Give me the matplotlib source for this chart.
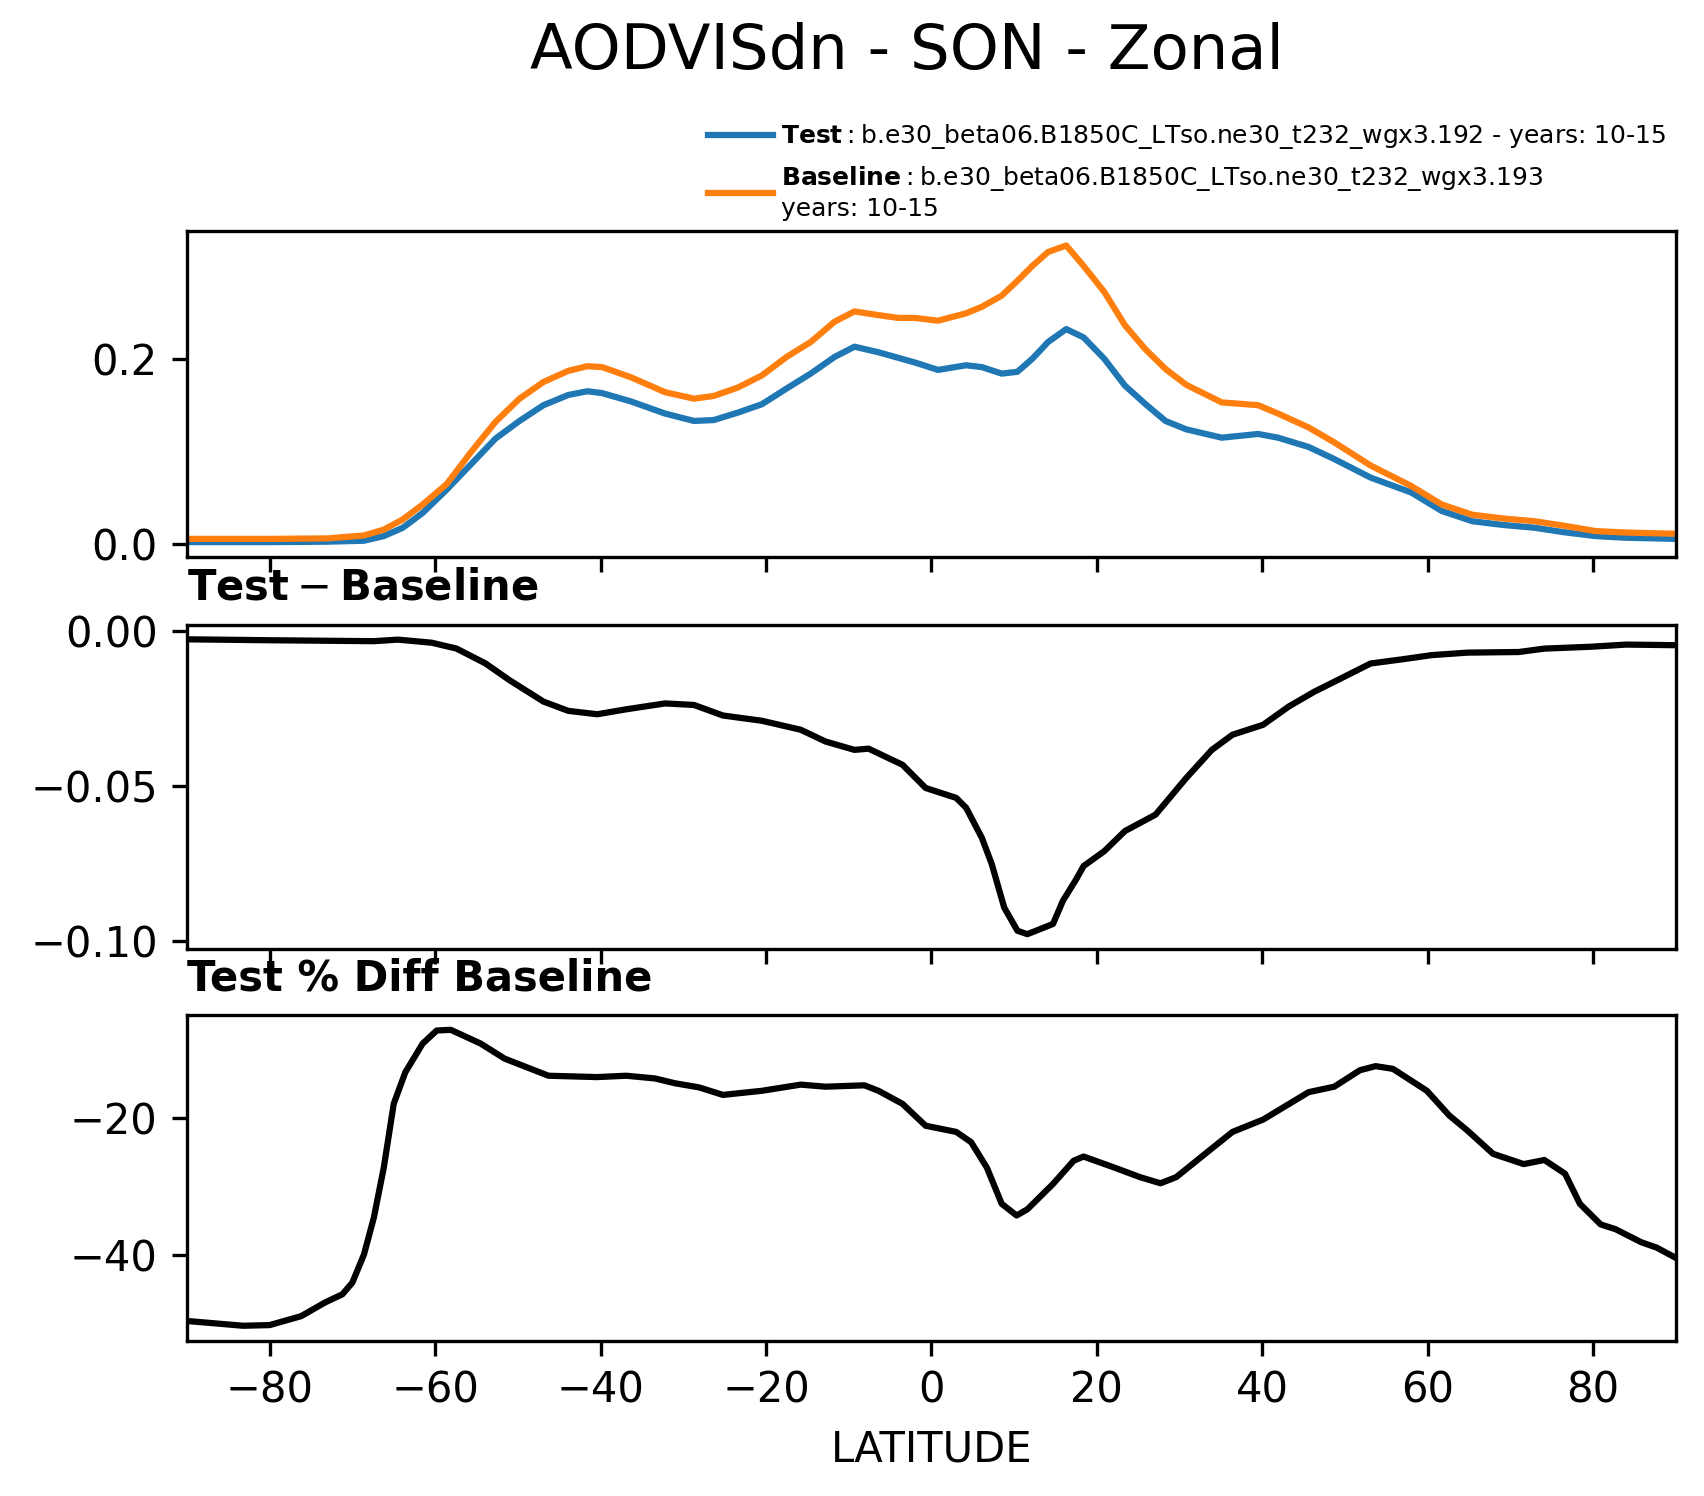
import matplotlib.pyplot as plt

# zonal means
lat_top = [-90, -80, -73, -68.6, -66.2, -63.9, -61.5, -58.6, -55.7, -52.7, -49.8, -46.9, -43.9, -41.6,
           -39.8, -36.3, -32.2, -28.7, -26.3, -23.4, -20.5, -17.5, -14.6, -11.7, -9.3, -6.4, -4.0, -2.0,
           0.8, 4.2, 6.1, 8.5, 10.4, 12.2, 14.1, 16.3, 18.4, 20.9, 23.4, 25.9, 28.3, 30.8, 35.1, 39.5,
           41.9, 45.6, 48.7, 53.1, 58.0, 61.7, 65.4, 69.1, 72.9, 76.6, 80.3, 84.0, 90.0]
test_vals = [0.0025, 0.0025, 0.003, 0.004, 0.009, 0.018, 0.034, 0.059, 0.086, 0.114, 0.133, 0.150, 0.161, 0.165,
             0.163, 0.154, 0.141, 0.133, 0.134, 0.142, 0.151, 0.168, 0.184, 0.202, 0.213, 0.207, 0.201, 0.196,
             0.188, 0.193, 0.191, 0.184, 0.186, 0.200, 0.218, 0.232, 0.223, 0.200, 0.171, 0.151, 0.133, 0.124,
             0.115, 0.119, 0.115, 0.105, 0.092, 0.072, 0.056, 0.036, 0.025, 0.021, 0.018, 0.013, 0.009, 0.0072, 0.006]
base_vals = [0.006, 0.006, 0.0065, 0.0097, 0.016, 0.027, 0.043, 0.065, 0.099, 0.132, 0.157, 0.175, 0.187, 0.192,
             0.191, 0.180, 0.164, 0.157, 0.160, 0.169, 0.182, 0.202, 0.218, 0.240, 0.251, 0.247, 0.244, 0.244,
             0.241, 0.249, 0.256, 0.268, 0.284, 0.300, 0.315, 0.322, 0.300, 0.272, 0.236, 0.210, 0.189, 0.172,
             0.153, 0.150, 0.141, 0.126, 0.110, 0.085, 0.063, 0.043, 0.032, 0.028, 0.025, 0.020, 0.0144, 0.0128, 0.0115]

lat_diff = [-90, -80, -67.4, -64.5, -60.4, -57.4, -53.9, -51.0, -46.9, -43.9, -40.4, -36.9, -32.2, -28.7,
            -25.2, -20.5, -15.8, -12.8, -9.3, -7.6, -3.5, -0.7, 3.0, 4.2, 6.1, 7.3, 8.8, 10.4, 11.6, 14.7,
            15.9, 17.5, 18.4, 20.9, 23.4, 27.1, 30.8, 33.9, 36.4, 40.1, 43.2, 46.3, 48.7, 53.1, 56.8, 60.5,
            64.8, 71.0, 74.1, 79.7, 84.0, 90.0]
diff_vals = [-0.0027, -0.003, -0.0033, -0.0028, -0.0038, -0.0057, -0.0105, -0.0159, -0.0228, -0.0258, -0.0269,
             -0.0253, -0.0234, -0.0239, -0.0273, -0.0290, -0.0319, -0.0357, -0.0384, -0.0380, -0.0432, -0.0507,
             -0.0539, -0.0571, -0.0668, -0.0753, -0.0893, -0.0968, -0.0979, -0.0946, -0.0871, -0.0802, -0.0759,
             -0.0711, -0.0646, -0.0593, -0.0475, -0.0384, -0.0335, -0.0303, -0.0244, -0.0196, -0.0164, -0.0105,
             -0.0092, -0.0078, -0.0070, -0.0068, -0.0057, -0.0051, -0.0044, -0.0046]

lat_pct = [-90, -83.2, -80, -76.2, -73.3, -71.2, -70.0, -68.6, -67.4, -66.2, -65.0, -63.6, -61.5, -59.8,
           -58.1, -54.5, -51.6, -46.3, -40.4, -36.9, -33.4, -31.0, -28.1, -25.2, -20.5, -15.8, -12.8, -8.1,
           -6.4, -3.5, -0.7, 3.0, 4.8, 6.7, 8.5, 10.3, 11.6, 14.7, 17.2, 18.4, 22.1, 25.2, 27.7, 29.6, 33.3,
           36.4, 40.1, 45.6, 48.7, 51.8, 53.7, 55.8, 59.9, 62.6, 64.8, 67.9, 71.6, 74.1, 76.6, 78.4, 80.9,
           82.7, 85.8, 87.7, 90.0]
pct_vals = [-49.6, -50.3, -50.2, -48.9, -46.9, -45.7, -44.0, -39.9, -34.5, -27.2, -17.9, -13.3, -9.1, -7.2,
            -7.1, -9.1, -11.3, -13.8, -14.0, -13.8, -14.2, -14.9, -15.5, -16.6, -16.0, -15.1, -15.4, -15.2,
            -16.0, -17.9, -21.1, -22.0, -23.5, -27.2, -32.5, -34.2, -33.3, -29.6, -26.2, -25.6, -27.2, -28.6,
            -29.5, -28.6, -25.0, -22.0, -20.2, -16.2, -15.4, -13.0, -12.4, -12.8, -16.0, -19.6, -21.8, -25.2,
            -26.7, -26.1, -28.1, -32.5, -35.5, -36.2, -38.1, -38.9, -40.4]

xticks = [-80, -60, -40, -20, 0, 20, 40, 60, 80]

test_label = r"$\bf{Test}$" + "\u2009:\u2009b.e30_beta06.B1850C_LTso.ne30_t232_wgx3.192 - years: 10-15"
base_label = r"$\bf{Baseline}$" + "\u2009:\u2009b.e30_beta06.B1850C_LTso.ne30_t232_wgx3.193\nyears: 10-15"

fig = plt.figure(figsize=(5.68, 4.9867), dpi=300)
ax1 = fig.add_axes([0.1097, 0.6277, 0.8738, 0.2181])
ax2 = fig.add_axes([0.1097, 0.3657, 0.8738, 0.2168], sharex=ax1)
ax3 = fig.add_axes([0.1097, 0.1039, 0.8738, 0.2176], sharex=ax1)

ax1.plot(lat_top, test_vals, color="#1f77b4", lw=1.5, label=test_label)
ax1.plot(lat_top, base_vals, color="#ff7f0e", lw=1.5, label=base_label)
ax1.set_yticks([0.0, 0.2])
ax1.legend(loc="lower right", bbox_to_anchor=(1.0, 1.0), frameon=False, fontsize=6,
           handlelength=2.6, handletextpad=0.3, borderaxespad=0)

ax2.plot(lat_diff, diff_vals, color="k", lw=1.5)
ax2.set_yticks([0.0, -0.05, -0.10])
ax2.set_title(r"$\mathbf{Test} - \mathbf{Baseline}$", loc="left", fontsize=10)

ax3.plot(lat_pct, pct_vals, color="k", lw=1.5)
ax3.set_yticks([-20, -40])
ax3.set_title("Test % Diff Baseline", loc="left", fontsize=10, fontweight="bold")
ax3.set_xlabel("LATITUDE")

ax3.set_xlim(-90, 90)
ax3.set_xticks(xticks)
for ax in (ax1, ax2):
    ax.tick_params(labelbottom=False)

fig.text(0.532, 0.965, "AODVISdn - SON - Zonal", ha="center", va="center", fontsize=15)

fig.savefig("out.png", dpi=300)
